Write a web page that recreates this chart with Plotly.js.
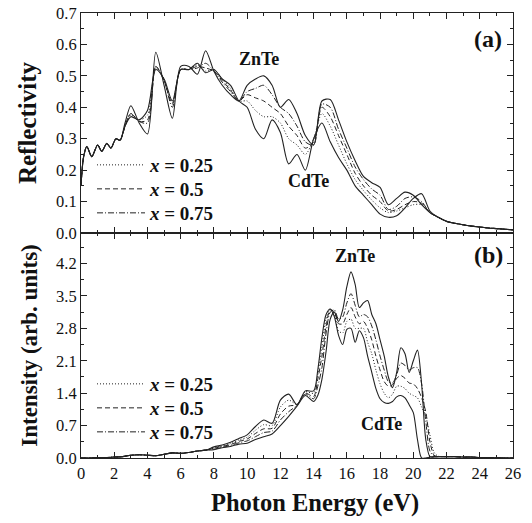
<!DOCTYPE html>
<html>
<head>
<meta charset="utf-8">
<script src="https://cdn.plot.ly/plotly-3.0.1.min.js"></script>
<style>body{margin:0;background:#fff}#chart{width:532px;height:523px}</style>
</head>
<body>
<div id="chart"></div>
<script>
// ---------- Panel (a): Reflectivity ----------
const energyTop = [0,0.15,0.35,0.65,1,1.25,1.55,1.8,2.1,2.35,2.65,3,3.5,4,4.5,5,5.5,6,6.5,7,7.5,8,8.5,9,9.5,10,10.5,11,11.5,12,12.5,13,13.5,14,14.5,15,15.5,16,16.5,17,17.5,18,18.5,19,19.5,20,20.5,21,21.5,22,22.5,23,23.5,24,24.5,25,25.5,26];
const reflZnTe = [0.15,0.24,0.275,0.243,0.28,0.26,0.285,0.27,0.30,0.295,0.35,0.405,0.35,0.315,0.575,0.47,0.365,0.53,0.53,0.505,0.58,0.515,0.47,0.44,0.42,0.47,0.49,0.50,0.47,0.40,0.425,0.38,0.31,0.28,0.42,0.425,0.36,0.29,0.23,0.18,0.16,0.145,0.09,0.11,0.13,0.12,0.09,0.065,0.05,0.037,0.031,0.026,0.022,0.019,0.016,0.014,0.012,0.01];
const reflCdTe = [0.15,0.24,0.275,0.243,0.28,0.26,0.285,0.27,0.30,0.295,0.34,0.37,0.36,0.39,0.52,0.49,0.42,0.52,0.52,0.54,0.51,0.52,0.49,0.47,0.42,0.40,0.33,0.30,0.36,0.32,0.22,0.25,0.20,0.30,0.35,0.29,0.24,0.20,0.15,0.12,0.09,0.06,0.05,0.055,0.08,0.11,0.125,0.07,0.05,0.037,0.031,0.026,0.022,0.019,0.016,0.014,0.012,0.01];
const refl075 = [0.15,0.24,0.275,0.243,0.28,0.26,0.285,0.27,0.30,0.295,0.34,0.38,0.355,0.35,0.53,0.485,0.40,0.52,0.52,0.525,0.54,0.515,0.48,0.45,0.42,0.45,0.46,0.47,0.44,0.40,0.38,0.34,0.29,0.28,0.41,0.40,0.33,0.27,0.21,0.17,0.14,0.12,0.075,0.085,0.11,0.115,0.10,0.065,0.05,0.037,0.031,0.026,0.022,0.019,0.016,0.014,0.012,0.01];
const refl050 = [0.15,0.24,0.275,0.243,0.28,0.26,0.285,0.27,0.30,0.295,0.34,0.38,0.355,0.36,0.53,0.485,0.41,0.52,0.52,0.53,0.525,0.515,0.485,0.455,0.42,0.44,0.43,0.42,0.40,0.38,0.34,0.31,0.27,0.29,0.40,0.37,0.31,0.25,0.19,0.15,0.12,0.10,0.07,0.075,0.09,0.10,0.095,0.065,0.05,0.037,0.031,0.026,0.022,0.019,0.016,0.014,0.012,0.01];
const refl025 = [0.15,0.24,0.275,0.243,0.28,0.26,0.285,0.27,0.30,0.295,0.34,0.375,0.36,0.375,0.525,0.49,0.415,0.52,0.52,0.535,0.515,0.52,0.49,0.46,0.42,0.42,0.39,0.37,0.37,0.35,0.30,0.28,0.25,0.30,0.38,0.34,0.28,0.22,0.17,0.135,0.105,0.08,0.065,0.07,0.08,0.09,0.09,0.065,0.05,0.037,0.031,0.026,0.022,0.019,0.016,0.014,0.012,0.01];

// ---------- Panel (b): Intensity ----------
const energyBot = [0,0.5,1,1.5,2,2.5,3,3.5,4,4.5,5,5.5,6,6.5,7,7.5,8,8.5,9,9.5,10,10.5,11,11.5,12,12.5,13,13.5,
  14,14.25,14.5,14.75,15,15.25,15.5,15.75,16,16.25,16.5,16.75,17,17.25,17.5,17.75,18,18.25,18.5,18.75,19,19.25,19.5,19.75,20,20.25,20.5,20.75,21,21.25,21.5,
  22,22.5,23,23.5,24,24.5,25,25.5,26];
const intZnTe = [0,0,0.01,0.01,0.02,0.03,0.06,0.07,0.06,0.05,0.08,0.11,0.10,0.12,0.15,0.17,0.18,0.22,0.25,0.30,0.32,0.40,0.46,0.52,0.70,0.90,1.12,1.35,
  1.22,1.35,1.70,2.30,3.00,3.15,2.95,3.20,3.70,4.02,3.75,3.25,3.35,3.40,3.10,2.90,2.55,2.20,1.75,1.52,1.85,2.38,2.25,1.85,2.10,2.33,1.60,0.40,0.03,0.02,0.03,
  0.03,0.03,0.02,0.02,0.01,0.01,0.005,0,0];
const intCdTe = [0,0,0.01,0.01,0.02,0.03,0.06,0.07,0.06,0.05,0.08,0.11,0.10,0.12,0.15,0.17,0.24,0.28,0.34,0.42,0.50,0.68,0.82,0.75,1.25,1.38,1.15,1.45,
  1.45,1.90,2.60,3.10,3.22,3.05,2.65,2.45,2.78,2.80,2.50,2.75,2.60,2.20,1.85,1.50,1.28,1.20,1.18,1.22,1.32,1.35,1.30,1.15,0.98,0.40,0.00,0.00,0.02,0.03,0.03,
  0.03,0.03,0.02,0.02,0.01,0.01,0.005,0,0];
const int075 = [0,0,0.01,0.01,0.02,0.03,0.06,0.07,0.06,0.05,0.08,0.11,0.10,0.12,0.15,0.17,0.19,0.23,0.27,0.33,0.37,0.46,0.55,0.58,0.82,1.00,1.14,1.38,
  1.28,1.55,1.95,2.70,3.15,3.20,3.00,3.05,3.35,3.55,3.30,3.05,3.10,3.05,2.85,2.55,2.20,1.90,1.65,1.62,1.80,2.05,2.00,1.90,1.95,1.95,1.60,0.80,0.15,0.04,0.03,
  0.03,0.03,0.02,0.02,0.01,0.01,0.005,0,0];
const int050 = [0,0,0.01,0.01,0.02,0.03,0.06,0.07,0.06,0.05,0.08,0.11,0.10,0.12,0.15,0.17,0.21,0.25,0.29,0.36,0.41,0.53,0.63,0.64,0.95,1.12,1.15,1.40,
  1.33,1.70,2.20,2.85,3.20,3.15,2.90,2.90,3.10,3.25,3.05,2.90,2.95,2.80,2.55,2.20,1.90,1.65,1.55,1.58,1.72,1.78,1.72,1.62,1.60,1.50,1.30,1.00,0.35,0.06,0.03,
  0.03,0.03,0.02,0.02,0.01,0.01,0.005,0,0];
const int025 = [0,0,0.01,0.01,0.02,0.03,0.06,0.07,0.06,0.05,0.08,0.11,0.10,0.12,0.15,0.17,0.22,0.26,0.31,0.39,0.45,0.60,0.72,0.70,1.10,1.25,1.16,1.43,
  1.40,1.80,2.40,3.00,3.22,3.10,2.75,2.70,2.95,3.00,2.80,2.80,2.80,2.50,2.25,1.90,1.60,1.40,1.30,1.38,1.55,1.55,1.50,1.40,1.35,1.30,1.10,0.90,0.50,0.12,0.04,
  0.03,0.03,0.02,0.02,0.01,0.01,0.005,0,0];

const legendLabels = ['<b><i>x</i> = 0.25</b>', '<b><i>x</i> = 0.5</b>', '<b><i>x</i> = 0.75</b>'];

const FONT = 'Liberation Serif, "Times New Roman", Times, serif';
const INK = '#222';
const DOT = '1px,2px', DASH = '5px,3px', DASHDOT = '6px,2px,1px,2px';

function tr(x, y, xa, ya, dash, name, legend, show, w) {
  return {x: x, y: y, xaxis: xa, yaxis: ya, type: 'scatter', mode: 'lines', name: name,
    line: {color: INK, width: w || 1, dash: dash, shape: 'spline', smoothing: 0.8},
    showlegend: show, legend: legend, hoverinfo: 'skip'};
}

const data = [
  tr(energyTop, reflZnTe, 'x2', 'y2', 'solid', 'ZnTe', 'legend', false, 1.1),
  tr(energyTop, reflCdTe, 'x2', 'y2', 'solid', 'CdTe', 'legend', false, 1.1),
  tr(energyTop, refl025, 'x2', 'y2', DOT, legendLabels[0], 'legend', true),
  tr(energyTop, refl050, 'x2', 'y2', DASH, legendLabels[1], 'legend2', true),
  tr(energyTop, refl075, 'x2', 'y2', DASHDOT, legendLabels[2], 'legend3', true),
  tr(energyBot, intZnTe, 'x', 'y', 'solid', 'ZnTe', 'legend4', false, 1.1),
  tr(energyBot, intCdTe, 'x', 'y', 'solid', 'CdTe', 'legend4', false, 1.1),
  tr(energyBot, int025, 'x', 'y', DOT, legendLabels[0], 'legend4', true),
  tr(energyBot, int050, 'x', 'y', DASH, legendLabels[1], 'legend5', true),
  tr(energyBot, int075, 'x', 'y', DASHDOT, legendLabels[2], 'legend6', true)
];

const axisCommon = {showline: true, linecolor: INK, linewidth: 1, mirror: 'ticks', ticks: 'inside',
  ticklen: 6, tickcolor: INK, showgrid: false, zeroline: false, tickfont: {size: 16.5, family: FONT, color: '#111'}};

const split = 225 / 445;

function leg(py) {
  return {x: (92 - 81) / 432, y: (458 - py) / 445, xanchor: 'left', yanchor: 'middle', bgcolor: 'rgba(0,0,0,0)',
    borderwidth: 0, font: {size: 19, family: FONT, color: '#111'}, itemwidth: 48};
}

const layout = {
  width: 532, height: 523,
  margin: {l: 81, r: 19, t: 13, b: 65},
  paper_bgcolor: '#fff', plot_bgcolor: '#fff',
  font: {family: FONT, size: 16, color: '#111'},
  showlegend: true,
  xaxis: Object.assign({}, axisCommon, {anchor: 'y', domain: [0, 1], range: [0, 26], tick0: 0, dtick: 2,
    minor: {dtick: 1, ticks: 'inside', ticklen: 3, tickcolor: INK}}),
  yaxis: Object.assign({}, axisCommon, {anchor: 'x', domain: [0, split], range: [0, 4.86], tick0: 0, dtick: 0.7, tickformat: '.1f',
    minor: {dtick: 0.35, ticks: 'inside', ticklen: 3, tickcolor: INK},
    title: {text: '<b>Intensity (arb. units)</b>', font: {size: 23, family: FONT}, standoff: 12}}),
  xaxis2: Object.assign({}, axisCommon, {anchor: 'y2', domain: [0, 1], range: [0, 26], tick0: 0, dtick: 2, matches: 'x', showticklabels: false,
    minor: {dtick: 1, ticks: 'inside', ticklen: 3, tickcolor: INK}}),
  yaxis2: Object.assign({}, axisCommon, {anchor: 'x2', domain: [split, 1], range: [0, 0.7], tick0: 0, dtick: 0.1, tickformat: '.1f',
    minor: {dtick: 0.05, ticks: 'inside', ticklen: 3, tickcolor: INK},
    title: {text: '<b>Reflectivity</b>', font: {size: 25, family: FONT}, standoff: 12}}),
  legend: leg(165), legend2: leg(189), legend3: leg(213),
  legend4: leg(384), legend5: leg(408), legend6: leg(432),
  annotations: [
    {xref: 'paper', yref: 'paper', x: (315 - 81) / 432, y: (458 - 503) / 445, text: '<b>Photon Energy (eV)</b>', showarrow: false,
      xanchor: 'center', yanchor: 'middle', font: {size: 24.5, family: FONT}},
    {xref: 'x2', yref: 'y2', x: 24.5, y: 0.617, text: '<b>(a)</b>', showarrow: false, font: {size: 24, family: FONT}},
    {xref: 'x', yref: 'y', x: 24.5, y: 4.38, text: '<b>(b)</b>', showarrow: false, font: {size: 24, family: FONT}},
    {xref: 'x2', yref: 'y2', x: 10.7, y: 0.553, text: '<b>ZnTe</b>', showarrow: false, font: {size: 18, family: FONT}},
    {xref: 'x2', yref: 'y2', x: 13.7, y: 0.165, text: '<b>CdTe</b>', showarrow: false, font: {size: 18, family: FONT}},
    {xref: 'x', yref: 'y', x: 16.5, y: 4.36, text: '<b>ZnTe</b>', showarrow: false, font: {size: 18, family: FONT}},
    {xref: 'x', yref: 'y', x: 18.1, y: 0.73, text: '<b>CdTe</b>', showarrow: false, font: {size: 18, family: FONT}}
  ]
};

Plotly.newPlot('chart', data, layout, {staticPlot: true, displayModeBar: false});
</script>
</body>
</html>
